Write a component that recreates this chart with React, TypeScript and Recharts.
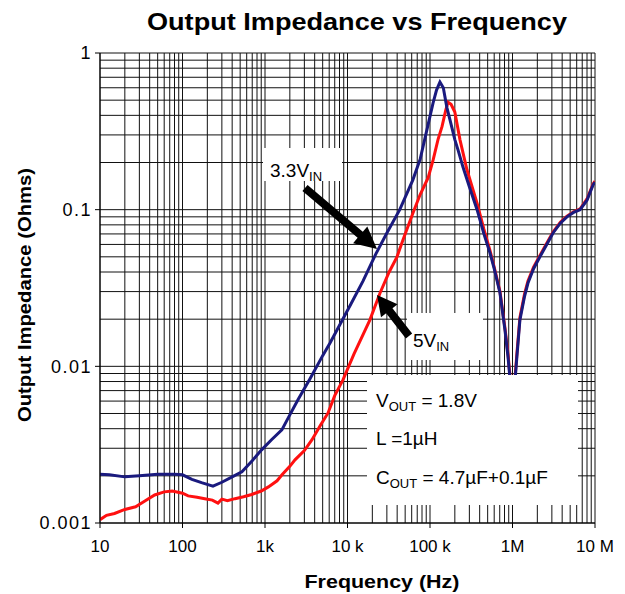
import React from 'react';
import { LineChart, Line, XAxis, YAxis, ReferenceLine } from 'recharts';

// frequency (Hz) / impedance (ohms)
const blueFreq = [
  10, 13, 20, 30, 50, 80, 100, 130, 170, 234, 300, 400, 525, 700, 910, 1200, 1600, 2000, 2500,
  3500, 5000, 6140, 8100, 11000, 15400, 22000, 30000, 43000, 62000, 76000, 95000, 109000, 120000,
  132000, 145000, 160000, 175000, 200000, 219000, 251000, 300000, 372000, 450000, 533000, 600000,
  705000, 811000, 882000, 950000, 1000000, 1060000, 1130000, 1230000, 1400000, 1540000, 1800000,
  2150000, 2600000, 3100000, 3800000, 4570000, 5500000, 6580000, 8000000, 9470000, 10000000,
];
const blueZ = [
  0.00205, 0.00203, 0.00197, 0.002, 0.00205, 0.00205, 0.00203, 0.0019, 0.00181, 0.00172, 0.00182,
  0.00197, 0.00212, 0.0025, 0.00293, 0.0034, 0.00393, 0.0049, 0.0061, 0.0083, 0.0117, 0.0141,
  0.0185, 0.025, 0.035, 0.052, 0.071, 0.1, 0.155, 0.21, 0.35, 0.48, 0.58, 0.653, 0.6, 0.45, 0.373,
  0.28, 0.24, 0.187, 0.14, 0.1, 0.07, 0.053, 0.042, 0.0294, 0.017, 0.0115, 0.0075, 0.0062, 0.0075,
  0.0115, 0.0198, 0.028, 0.034, 0.042, 0.05, 0.06, 0.071, 0.082, 0.09, 0.096, 0.1, 0.115, 0.144,
  0.15,
];

const redFreq = [
  10, 12, 15, 20, 27, 35, 46, 60, 75, 100, 117, 150, 186, 230, 269, 300, 350, 433, 550, 690, 900,
  1100, 1400, 1607, 2000, 2310, 3000, 3715, 4700, 5810, 7000, 8810, 12000, 18700, 24800, 32000,
  39800, 47000, 62000, 76000, 95000, 109000, 125000, 140000, 155000, 165000, 180000, 200000,
  231000, 281000, 372000, 450000, 533000, 600000, 705000, 811000, 882000, 950000, 1000000,
  1060000, 1130000, 1230000, 1400000, 1540000, 1800000, 2150000, 2600000, 3100000, 3800000,
  4570000, 5500000, 6580000, 8000000, 9470000, 10000000,
];
const redZ = [
  0.00105, 0.00112, 0.00115, 0.00122, 0.00127, 0.00138, 0.00151, 0.00158, 0.0016, 0.00155,
  0.00149, 0.00146, 0.00143, 0.0014, 0.00134, 0.00142, 0.00139, 0.00143, 0.00147, 0.00152, 0.0016,
  0.0017, 0.00186, 0.00203, 0.0023, 0.00253, 0.0029, 0.0034, 0.0042, 0.00504, 0.0065, 0.0082,
  0.012, 0.0198, 0.0294, 0.04, 0.05, 0.064, 0.095, 0.125, 0.16, 0.207, 0.28, 0.34, 0.43, 0.485,
  0.47, 0.42, 0.279, 0.179, 0.11, 0.075, 0.055, 0.043, 0.03, 0.0175, 0.012, 0.0078, 0.0063,
  0.0078, 0.012, 0.0205, 0.029, 0.035, 0.043, 0.051, 0.061, 0.072, 0.083, 0.091, 0.097, 0.101,
  0.117, 0.146, 0.152,
];

const xTicks = [10, 100, 1000, 10000, 100000, 1000000, 10000000];
const xTickLabels = ['10', '100', '1k', '10 k', '100 k', '1M', '10 M'];
const yTicks = [0.001, 0.01, 0.1, 1];
const yTickLabels = ['0.001', '0.01', '0.1', '1'];

const decadeSteps = [1, 2, 3, 4, 5, 6, 7, 8, 9];
const xGrid = xTicks.slice(0, -1).flatMap((d) => decadeSteps.map((s) => d * s)).concat([1e7]);
const yGrid = yTicks.slice(0, -1).flatMap((d) => decadeSteps.map((s) => d * s)).concat([1]);

const blueData = blueFreq.map((f, i) => ({ f, z: blueZ[i] }));
const redData = redFreq.map((f, i) => ({ f, z: redZ[i] }));

const FONT = 'Arial, "Liberation Sans", sans-serif';

// arrow polygon from tail to tip
function arrow(x1: number, y1: number, x2: number, y2: number, shaft: number, headLen: number, headW: number) {
  const dx = x2 - x1;
  const dy = y2 - y1;
  const len = Math.sqrt(dx * dx + dy * dy);
  const ux = dx / len;
  const uy = dy / len;
  const nx = -uy;
  const ny = ux;
  const bx = x2 - ux * headLen;
  const by = y2 - uy * headLen;
  const pts = [
    [x1 + nx * shaft / 2, y1 + ny * shaft / 2],
    [bx + nx * shaft / 2, by + ny * shaft / 2],
    [bx + nx * headW / 2, by + ny * headW / 2],
    [x2, y2],
    [bx - nx * headW / 2, by - ny * headW / 2],
    [bx - nx * shaft / 2, by - ny * shaft / 2],
    [x1 - nx * shaft / 2, y1 - ny * shaft / 2],
  ];
  return pts.map((p) => p.join(',')).join(' ');
}

export default function App() {
  return (
    <div style={{ position: 'absolute', left: 0, top: 0, width: 625, height: 594, background: '#fff' }}>
      <LineChart width={625} height={594} data={blueData} margin={{ top: 53, right: 30, bottom: 11, left: 0 }}>
        <XAxis
          dataKey="f"
          type="number"
          scale="log"
          domain={[10, 1e7]}
          ticks={xTicks}
          allowDataOverflow
          tickFormatter={(v: number) => xTickLabels[xTicks.indexOf(v)]}
          height={60}
          axisLine={{ stroke: '#000' }}
          tickLine={{ stroke: '#000' }}
          tickSize={5}
          tickMargin={12}
          tick={{ fontSize: 17, fill: '#000', fontFamily: FONT }}
        />
        <YAxis
          dataKey="z"
          type="number"
          scale="log"
          domain={[0.001, 1]}
          ticks={yTicks}
          allowDataOverflow
          tickFormatter={(v: number) => yTickLabels[yTicks.indexOf(v)]}
          width={100}
          axisLine={{ stroke: '#000' }}
          tickLine={{ stroke: '#000' }}
          tickSize={5}
          tickMargin={3}
          tick={{ fontSize: 18, fill: '#000', fontFamily: FONT, letterSpacing: 1.5 }}
        />
        {xGrid.map((v) => (
          <ReferenceLine key={'x' + v} x={v} stroke="#111" strokeWidth={1} />
        ))}
        {yGrid.map((v) => (
          <ReferenceLine key={'y' + v} y={v} stroke="#111" strokeWidth={1} />
        ))}
        <Line data={redData} dataKey="z" stroke="#ff1010" strokeWidth={3} dot={false} isAnimationActive={false} />
        <Line data={blueData} dataKey="z" stroke="#1a1a7e" strokeWidth={3} dot={false} isAnimationActive={false} />
      </LineChart>

      <svg
        width={625}
        height={594}
        style={{ position: 'absolute', left: 0, top: 0, pointerEvents: 'none' }}
        fontFamily={FONT}
      >
        <text x={357} y={30} textAnchor="middle" fontSize={24} fontWeight="bold" textLength={420} lengthAdjust="spacingAndGlyphs">
          Output Impedance vs Frequency
        </text>
        <text x={382} y={588} textAnchor="middle" fontSize={18} fontWeight="bold" textLength={155} lengthAdjust="spacingAndGlyphs">
          Frequency (Hz)
        </text>
        <text
          transform="translate(31,295) rotate(-90)"
          textAnchor="middle"
          fontSize={18}
          fontWeight="bold"
          textLength={254}
          lengthAdjust="spacingAndGlyphs"
        >
          Output Impedance (Ohms)
        </text>

        {/* annotation boxes */}
        <rect x={263} y={148} width={79} height={33} fill="#fff" />
        <text x={270} y={177} fontSize={19}>
          3.3V<tspan fontSize={13} dy={4}>IN</tspan>
        </text>
        <rect x={407} y={313} width={76} height={47} fill="#fff" />
        <text x={413} y={347} fontSize={19}>
          5V<tspan fontSize={13} dy={4}>IN</tspan>
        </text>
        <polygon points={arrow(305, 188, 377, 249, 8, 22, 22)} fill="#000" />
        <polygon points={arrow(409, 336, 377, 295, 8, 20, 21)} fill="#000" />

        <rect x={367} y={375} width={211} height={130} fill="#fff" />
        <text x={376} y={407} fontSize={19}>
          V<tspan fontSize={13} dy={4}>OUT</tspan>
          <tspan dy={-4}> = 1.8V</tspan>
        </text>
        <text x={376} y={445} fontSize={19}>
          L =1µH
        </text>
        <text x={376} y={484} fontSize={19}>
          C<tspan fontSize={13} dy={4}>OUT</tspan>
          <tspan dy={-4}> = 4.7µF+0.1µF</tspan>
        </text>
      </svg>
    </div>
  );
}
